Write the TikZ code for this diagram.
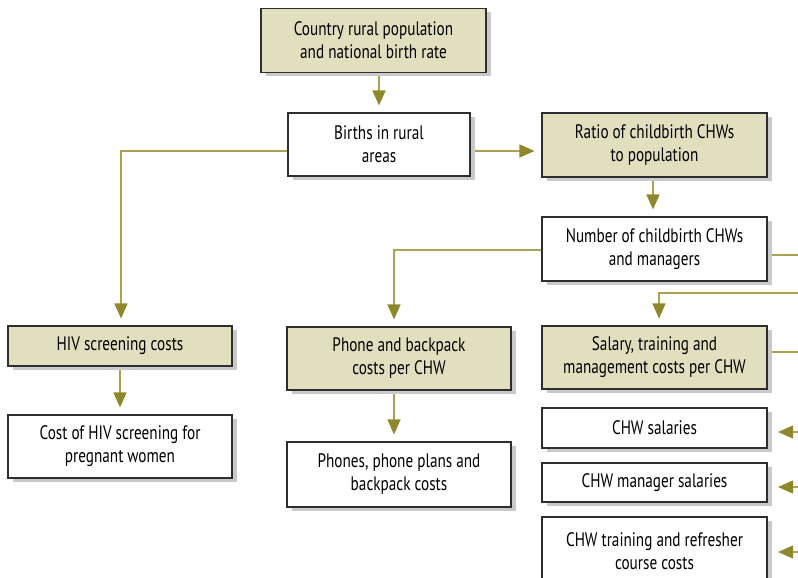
\documentclass[tikz,border=0pt]{standalone}
\usepackage{fontspec}
\setmainfont{PT Sans}[FakeStretch=0.78]
\usetikzlibrary{arrows.meta,shadows,calc,backgrounds}
\definecolor{khaki}{HTML}{E2DFBE}
\definecolor{olive}{HTML}{A9A352}
\definecolor{olivehead}{HTML}{8E8828}
\definecolor{boxline}{HTML}{2E2E2E}
\definecolor{shadowgray}{HTML}{C9C9CB}
\tikzset{
  box/.style={draw=boxline, line width=1.1pt, fill=white, align=center,
    inner sep=0pt, font=\fontsize{19.5}{23}\selectfont,
    drop shadow={shadow xshift=5pt, shadow yshift=-4pt, fill=shadowgray, opacity=1}},
  kbox/.style={box, fill=khaki},
  wire/.style={draw=olive, line width=1.3pt},
  conn/.style={wire, shorten >=7pt, -{Triangle[length=15pt,width=13pt,color=olivehead]}}
}
\begin{document}
\begin{tikzpicture}[x=1pt,y=-1pt]
\useasboundingbox (0,0) rectangle (798,578);
% nodes
\node[kbox, minimum width=225pt, minimum height=64pt] (top) at (373.5,40.5) {Country rural population\\and national birth rate};
\node[box, minimum width=182pt, minimum height=63pt] (births) at (379,144.5) {Births in rural\\areas};
\node[kbox, minimum width=225pt, minimum height=64pt] (ratio) at (654.5,145) {Ratio of childbirth CHWs\\to population};
\node[box, minimum width=225pt, minimum height=64pt] (number) at (654.5,249) {Number of childbirth CHWs\\and managers};
\node[kbox, minimum width=225pt, minimum height=63pt] (salary) at (654.5,357.5) {Salary, training and\\management costs per CHW};
\node[kbox, minimum width=224pt, minimum height=40pt] (hiv) at (120,346) {HIV screening costs};
\node[box, minimum width=224pt, minimum height=63pt] (cost) at (120,446.5) {Cost of HIV screening for\\pregnant women};
\node[kbox, minimum width=224pt, minimum height=63pt] (phone) at (399,358.5) {Phone and backpack\\costs per CHW};
\node[box, minimum width=224pt, minimum height=65pt] (phones) at (399,474.5) {Phones, phone plans and\\backpack costs};
\node[box, minimum width=225pt, minimum height=40pt] (sal) at (654.5,428) {CHW salaries};
\node[box, minimum width=225pt, minimum height=39pt] (mgr) at (654.5,482.5) {CHW manager salaries};
\node[box, minimum width=225pt, minimum height=68pt] (train) at (654.5,551) {CHW training and refresher\\course costs};
% connector anchor points
\coordinate (bE) at ($(births.east)+(0,6.5)$);
\coordinate (bW) at ($(births.west)+(0,6.5)$);
% free ends at the right edge
\coordinate (rNum) at (800,255);
\coordinate (rIn) at (800,293);
\coordinate (rSal) at (800,352);
\coordinate (r1) at (800,432);
\coordinate (r2) at (800,487);
\coordinate (r3) at (800,552);
\begin{scope}[on background layer]
\draw[conn] (top.south -| births.north) -- (births.north);
\draw[conn] (bE) -- (bE -| ratio.west);
\draw[conn] (bW) -| ($(hiv.north)+(1,0)$);
\draw[conn] ($(ratio.south)+(-1.5,0)$) -- ($(number.north)+(-1.5,0)$);
\draw[conn] ($(number.west)+(0,1)$) -| ($(phone.north)+(-5,0)$);
\draw[conn] ($(phone.south)+(-5,0)$) -- ($(phones.north)+(-5,0)$);
\draw[conn] (hiv.south) -- (cost.north);
\draw[wire] (number.east |- rNum) -- (rNum);
\draw[conn] (rIn) -| ($(salary.north)+(4.5,0)$);
\draw[wire] (salary.east |- rSal) -- (rSal);
\draw[conn, shorten >=10.5pt] (r1) -- (sal.east |- r1);
\draw[conn, shorten >=10.5pt] (r2) -- (mgr.east |- r2);
\draw[conn, shorten >=10.5pt] (r3) -- (train.east |- r3);
\end{scope}
\end{tikzpicture}
\end{document}
